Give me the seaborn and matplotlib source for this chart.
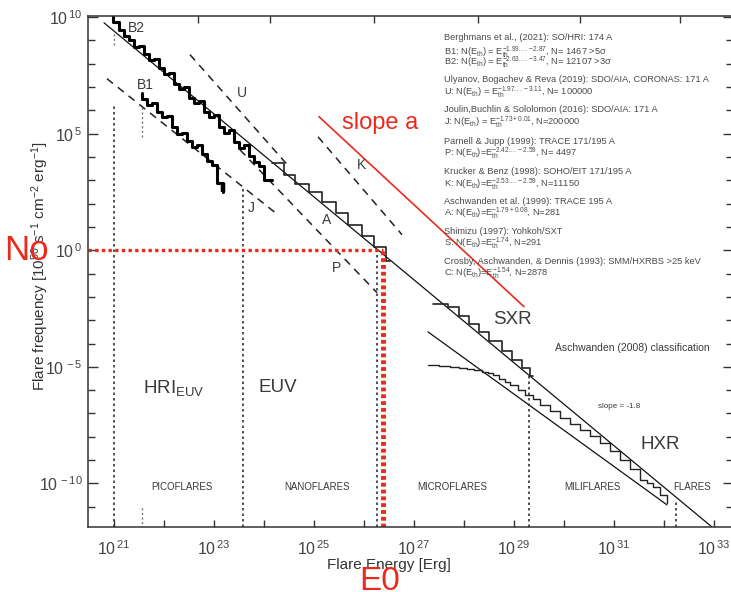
import numpy as np
import matplotlib
matplotlib.use("Agg")
import matplotlib.pyplot as plt
import seaborn as sns
from matplotlib.ticker import FixedLocator, FuncFormatter, NullLocator, NullFormatter

# ---------------- data: log10 exponents ----------------
# thin power-law reference line (slope = -1.8)
fit_energy_exp = [20.8, 32.96]
fit_freq_exp = [9.76, -11.87]
# second thin line through the HXR distribution
hxr_fit_energy_exp = [27.28, 32.06]
hxr_fit_freq_exp = [-3.5, -10.92]
# red "slope a" line
slope_a_energy_exp = [25.1, 29.2]
slope_a_freq_exp = [5.73, -2.42]
# dashed power-law fits
j_energy_exp = [20.86, 24.28]
j_freq_exp = [7.36, 1.52]
u_energy_exp = [22.52, 24.52]
u_freq_exp = [8.39, 3.54]
p_energy_exp = [23.52, 26.26]
p_freq_exp = [4.31, -1.82]
k_energy_exp = [25.08, 26.76]
k_freq_exp = [4.87, 0.67]

# B2 histogram (thick)
b2_energy_exp = [20.98, 20.98, 21.1, 21.2, 21.3, 21.4, 21.5, 21.6, 21.7, 21.8, 21.9,
                 22.0, 22.1, 22.2, 22.3, 22.4, 22.5, 22.6, 22.7, 22.8, 22.9,
                 23.0, 23.1, 23.2, 23.3, 23.4, 23.5, 23.6, 23.7, 23.8, 23.9, 24.0, 24.16]
b2_freq_exp = [10.5, 9.8, 9.45, 9.2, 9.0, 8.7, 8.75, 8.4, 8.15, 8.2, 7.8,
               7.55, 7.6, 7.15, 6.9, 7.0, 6.55, 6.3, 6.4, 5.95, 5.7,
               5.8, 5.3, 5.05, 5.15, 4.65, 4.4, 4.5, 4.05, 3.8, 3.6, 3.03, 3.03]
# B1 histogram (thick)
b1_energy_exp = [21.56, 21.56, 21.66, 21.76, 21.86, 21.96, 22.06, 22.16, 22.26, 22.36,
                 22.46, 22.56, 22.66, 22.76, 22.86, 22.96, 23.06, 23.18]
b1_freq_exp = [6.76, 6.5, 6.25, 6.3, 5.95, 5.7, 5.75, 5.3, 5.0, 5.05,
               4.7, 4.45, 4.5, 4.15, 3.85, 3.65, 2.9, 2.5]
# A histogram (thin)
a_energy_exp = [24.16, 24.4, 24.62, 24.9, 25.16, 25.44, 25.68, 25.96, 26.2, 26.44, 26.52]
a_freq_exp = [3.75, 3.25, 2.85, 2.5, 2.05, 1.6, 1.1, 0.6, 0.12, -0.45, -0.45]
# SXR histogram
sxr_energy_exp = [27.38, 27.68, 27.9, 28.1, 28.3, 28.5, 28.75, 28.95, 29.15, 29.32, 29.38]
sxr_freq_exp = [-2.3, -2.45, -2.8, -3.15, -3.5, -3.9, -4.3, -4.7, -5.05, -5.4, -5.4]
# HXR histogram
hxr_energy_exp = [27.28, 27.5, 27.72, 27.9, 28.06, 28.2, 28.36, 28.48, 28.58, 28.7,
                  28.82, 28.92, 29.07, 29.22, 29.37, 29.52, 29.72, 29.92, 30.12, 30.32,
                  30.52, 30.72, 30.92, 31.12, 31.32, 31.52, 31.65, 31.78, 31.92, 32.06]
hxr_freq_exp = [-4.9, -4.95, -5.0, -5.05, -5.1, -5.15, -5.2, -5.27, -5.34, -5.5,
                -5.65, -5.77, -6.0, -6.2, -6.4, -6.63, -6.9, -7.19, -7.45, -7.7,
                -7.98, -8.26, -8.6, -8.99, -9.4, -9.85, -10.0, -10.15, -10.5, -10.84]

# class boundaries (dotted verticals) and their upper ends
boundary_energy_exp = [21.0, 23.58, 26.26, 29.3, 32.24]
boundary_top_exp = [6.24, 2.68, 0.0, -5.34, -10.7]
# short threshold marks
thresh_energy_exp = [21.0, 21.56, 21.56]
thresh_low_exp = [8.82, 4.87, -12.5]
thresh_high_exp = [9.38, 6.16, -11.0]

e0_exp = 26.38
n0_exp = 0.0

class_labels = ["PICOFLARES", "NANOFLARES", "MICROFLARES", "MILIFLARES", "FLARES"]
class_label_exp = [22.36, 25.06, 27.76, 30.56, 32.56]

xtick_exp = list(range(21, 34))
top_tick_exp = [22.68, 24.12, 26.2, 28.28, 30.32, 32.32]
ytick_major_exp = [-10, -5, 0, 5, 10]
ytick_minor_exp = list(range(-11, 11))

legend_lines = [
    "Berghmans et al., (2021): SO/HRI: 174 A",
    r"B1: N(E$_{\rm th}$) = E$_{\rm th}^{-1.99...-2.87}$, N= 1467 >5σ",
    r"B2: N(E$_{\rm th}$) = E$_{\rm th}^{-2.63...-3.47}$, N= 12107 >3σ",
    "Ulyanov, Bogachev & Reva (2019): SDO/AIA, CORONAS: 171 A",
    r"U: N(E$_{\rm th}$) = E$_{\rm th}^{-1.97...-3.11}$, N= 100000",
    "Joulin,Buchlin & Sololomon (2016): SDO/AIA: 171 A",
    r"J: N(E$_{\rm th}$) = E$_{\rm th}^{-1.73+0.01}$, N=200000",
    "Parnell & Jupp (1999): TRACE 171/195 A",
    r"P: N(E$_{\rm th}$)=E$_{\rm th}^{-2.42...-2.59}$, N= 4497",
    "Krucker & Benz (1998): SOHO/EIT 171/195 A",
    r"K: N(E$_{\rm th}$)=E$_{\rm th}^{-2.53...-2.59}$, N=11150",
    "Aschwanden et al. (1999): TRACE 195 A",
    r"A: N(E$_{\rm th}$)=E$_{\rm th}^{-1.79+0.08}$, N=281",
    "Shimizu (1997): Yohkoh/SXT",
    r"S: N(E$_{\rm th}$)=E$_{\rm th}^{-1.74}$, N=291",
    "Crosby, Aschwanden, & Dennis (1993): SMM/HXRBS >25 keV",
    r"C: N(E$_{\rm th}$)=E$_{\rm th}^{-1.54}$, N=2878",
]
legend_y_px = [37, 52, 62, 80, 92, 110, 122, 142, 153, 172, 184, 202, 213, 232, 243, 262, 273]

# ---------------- style ----------------
sns.set_theme(style="ticks")
plt.rcParams["font.family"] = ["Liberation Sans", "DejaVu Sans"]
plt.rcParams["mathtext.fontset"] = "custom"
plt.rcParams["mathtext.rm"] = "Liberation Sans"
plt.rcParams["mathtext.it"] = "Liberation Sans:italic"
plt.rcParams["mathtext.bf"] = "Liberation Sans:bold"

W, H = 731, 592
fig = plt.figure(figsize=(W / 100, H / 100), dpi=100)
ax = fig.add_axes([88 / W, 1 - 527 / H, (733 - 88) / W, (527 - 16) / H])
ax.set_xscale("log")
ax.set_yscale("log")
XMIN, XMAX = 10 ** 20.48, 10 ** 33.38
YMIN, YMAX = 10 ** -11.87, 10 ** 10.05
ax.set_xlim(XMIN, XMAX)
ax.set_ylim(YMIN, YMAX)

TXT = "#3a3a3a"
RED = "#ec2a1c"


def P(v):
    return 10.0 ** np.asarray(v, dtype=float)


def draw(xe, ye, **kw):
    sns.lineplot(x=P(xe), y=P(ye), ax=ax, estimator=None, sort=False,
                 legend=False, **kw)


# reference lines
draw(fit_energy_exp, fit_freq_exp, color="#111111", lw=0.9)
draw(hxr_fit_energy_exp, hxr_fit_freq_exp, color="#111111", lw=0.9)
draw(slope_a_energy_exp, slope_a_freq_exp, color=RED, lw=1.2)
for xe, ye in [(j_energy_exp, j_freq_exp), (u_energy_exp, u_freq_exp),
               (p_energy_exp, p_freq_exp), (k_energy_exp, k_freq_exp)]:
    draw(xe, ye, color="#222222", lw=1.1, linestyle=(0, (5, 4)))

# histograms
draw(b2_energy_exp, b2_freq_exp, color="black", lw=2.2, drawstyle="steps-post")
draw(b1_energy_exp, b1_freq_exp, color="black", lw=2.2, drawstyle="steps-post")
draw(b1_energy_exp[-1:] * 2, b1_freq_exp[-2:], color="black", lw=3.2,
     solid_capstyle="butt")
draw(a_energy_exp, a_freq_exp, color="#222222", lw=1.2, drawstyle="steps-post")
draw(sxr_energy_exp, sxr_freq_exp, color="#222222", lw=1.2, drawstyle="steps-post")
draw(hxr_energy_exp, hxr_freq_exp, color="#222222", lw=1.0, drawstyle="steps-post")

# dotted class boundaries
ax.vlines(P(boundary_energy_exp), YMIN, P(boundary_top_exp), colors="#333333",
          lw=1.2, linestyles=[(0, (1.5, 1.8))])
ax.vlines(P(thresh_energy_exp), P(thresh_low_exp), P(thresh_high_exp), colors="#777777",
          lw=1.0, linestyles=[(0, (1.5, 1.8))])

# red E0 / N0 markers
ax.hlines(P(n0_exp), XMIN, P(e0_exp), colors=RED, lw=2.4, linestyles=[(0, (1, 1))])
ax.vlines(P(e0_exp), YMIN, P(n0_exp), colors=RED, lw=3.5, linestyles=[(0, (0.8, 0.6))])

# ---------------- ticks ----------------
ax.xaxis.set_major_locator(FixedLocator(P(xtick_exp)))
ax.xaxis.set_minor_locator(NullLocator())


def xfmt(v, pos):
    e = int(round(np.log10(v)))
    return r"$\mathdefault{10^{\,%d}}$" % e if e % 2 == 1 else ""


def yfmt(v, pos):
    e = int(round(np.log10(v)))
    return r"$\mathdefault{10^{\,%d}}$" % e


ax.xaxis.set_major_formatter(FuncFormatter(xfmt))
ax.yaxis.set_major_locator(FixedLocator(P(ytick_major_exp)))
ax.yaxis.set_minor_locator(FixedLocator(P([e for e in ytick_minor_exp if e % 5 != 0])))
ax.yaxis.set_major_formatter(FuncFormatter(yfmt))
ax.yaxis.set_minor_formatter(NullFormatter())
ax.tick_params(axis="both", which="both", direction="in", top=False, right=True,
               colors="#333333", labelcolor="#444444", labelsize=11.5, width=1.0)
ax.tick_params(axis="x", which="major", length=5, pad=9)
ax.tick_params(axis="y", which="major", length=7, pad=4)
ax.tick_params(axis="y", which="minor", length=5)
for s in ax.spines.values():
    s.set_color("#333333")
    s.set_linewidth(1.1)

# top ticks (irregular in the source figure)
secx = ax.secondary_xaxis("top")
secx.xaxis.set_major_locator(FixedLocator(P(top_tick_exp)))
secx.xaxis.set_minor_locator(NullLocator())
secx.xaxis.set_major_formatter(NullFormatter())
secx.tick_params(direction="in", length=5, colors="#333333", width=1.0)
secx.spines["top"].set_visible(False)

ax.set_xlabel("Flare Energy [Erg]", fontsize=11, color="#333333")
ax.set_ylabel(r"Flare frequency [10$^{50}$ s$^{-1}$ cm$^{-2}$ erg$^{-1}$]",
              fontsize=11, color="#333333")
ax.xaxis.set_label_coords(0.467, -0.06)
ax.yaxis.set_label_coords(-0.058, 0.51)

# ---------------- annotations ----------------
for s, e, n in [("B2", 21.28, 9.55), ("B1", 21.46, 7.1), ("U", 23.46, 6.76),
                ("J", 23.68, 1.82), ("K", 25.86, 3.67), ("A", 25.16, 1.31),
                ("P", 25.36, -0.75)]:
    ax.text(P(e), P(n), s, fontsize=10, color=TXT, ha="left", va="center")

ax.text(P(21.58), P(-5.9), r"HRI$_{\rm EUV}$", fontsize=13.5, color=TXT, ha="left", va="center")
ax.text(P(23.88), P(-5.9), "EUV", fontsize=13.5, color=TXT, ha="left", va="center")
ax.text(P(28.58), P(-2.98), "SXR", fontsize=13.5, color=TXT, ha="left", va="center")
ax.text(P(31.52), P(-8.35), "HXR", fontsize=13.5, color=TXT, ha="left", va="center")
ax.text(P(31.36), P(-4.18), "Aschwanden (2008) classification", fontsize=7.5,
        color=TXT, ha="center", va="center")
ax.text(P(31.11), P(-6.72), "slope = -1.8", fontsize=5.8, color=TXT, ha="center", va="center")
for lab, e in zip(class_labels, class_label_exp):
    ax.text(P(e), P(-10.15), lab, fontsize=7, color=TXT, ha="center", va="center")

for s, ypx in zip(legend_lines, legend_y_px):
    ax.text((444 - 88) / 645, (527 - ypx) / 511, s, transform=ax.transAxes,
            fontsize=6.7, color="#4a4a4a", ha="left", va="center")

ax.text(P(25.56), P(5.47), "slope a", fontsize=17, color=RED, ha="left", va="center")
fig.text(26 / W, 1 - 251 / H, "No", fontsize=25, color=RED, ha="center", va="center")
fig.text(380 / W, 1 - 582 / H, "E0", fontsize=24, color=RED, ha="center", va="center")

fig.savefig("out.png", dpi=100)
